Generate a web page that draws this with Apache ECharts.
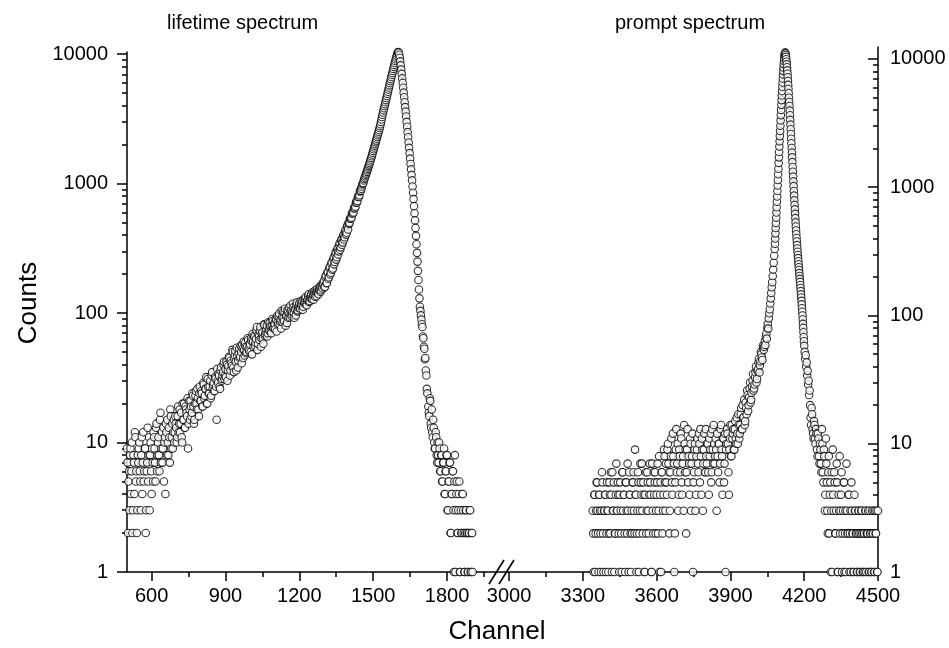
<!DOCTYPE html>
<html><head><meta charset="utf-8">
<script src="https://cdn.jsdelivr.net/npm/echarts@6/dist/echarts.min.js"></script>
<style>html,body{margin:0;padding:0;background:#fff}#c{width:949px;height:648px}</style>
</head><body><div id="c"></div>
<script>
// ---------- DATA (channel numbers and counts) ----------
// lifetime spectrum
const lifetimeRiseStart = 500, lifetimeRiseStep = 4;
const lifetimeRiseCounts = [
  9,2,6,8,4,10,3,7,12,5,2,8,9,6,3,11,7,5,9,2,6,13,8,3,10,
  4,7,12,9,5,14,8,11,6,17,9,7,13,10,4,12,15,8,11,18,9,14,12,10,16,
  13,11,19,14,12,17,10,15,20,13,18,16,9,21,15,19,17,23,14,20,25,18,22,16,27,
  21,24,19,28,23,26,20,31,24,27,22,33,26,29,25,31,15,30,34,27,36,30,33,40,31,
  37,42,30,39,45,36,41,52,38,44,51,36,47,43,53,46,50,57,45,52,59,49,55,62,51,
  57,64,48,60,67,56,63,78,58,66,73,55,69,64,82,67,72,80,70,75,84,72,79,87,76,
  82,90,72,85,94,81,89,104,85,92,101,80,96,105,92,99,114,95,102,111,92,106,115,103,110,
  119,108,114,124,112,119,129,117,125,135,122,131,140,128,137,147,134,144,153,142,151,161,150,160,171,
  178,160,195,171,208,189,228,205,247,221,270,248,296,270,318,300,347,322,373,352,404,385,440,418,478,
  500,498,548,546,601,598,660,664,731,734,806,814,896,912,985,1010,1085,1140,1200,1265,1335,1410,1490,1580,1680,
  1790,1900,2020,2150,2290,2440,2600,2780,3000,3270,3550,3820,4100,4420,4760,5130,5530,5960,6420,6900,7420,7980,8560,9150,9750
];
const lifetimeRise2Start = 502, lifetimeRise2Step = 4;
const lifetimeRise2Counts = [
  7,5,3,9,6,2,8,4,11,6,3,7,10,5,8,4,12,6,9,3,7,5,11,8,6,
  9,5,11,7,13,6,10,8,15,7,12,9,5,11,14,8,10,13,7,16,11,9,15,12,14,
  10,16,12,18,14,11,20,15,13,19,17,22,14,18,21,16,24,19,15,23,20,26,18,24,21,
  25,19,29,22,26,32,20,27,24,30,23,35,28,25,32,27,37,29,33,26,38,31,35,42,33,
  32,40,36,46,33,43,39,50,35,47,42,54,38,49,45,56,41,53,60,47,55,50,64,53,58,
  50,61,69,55,65,59,74,52,68,62,78,64,71,58,81,69,75,66,85,73,79,70,90,77,83,
  75,88,95,82,99,86,76,93,102,87,108,95,84,101,110,93,104,98,118,100,108,96,121,105,114,
  110,124,117,106,128,121,133,115,127,140,124,136,130,145,127,139,151,135,147,140,157,146,163,155,168,
  158,190,170,206,184,222,199,241,216,262,238,285,259,308,284,336,309,364,337,395,370,428,404,466,442,
  488,536,536,588,588,644,646,712,716,789,789,872,880,950,1002,1057,1112,1170,1232,1300,1372,1450,1535,1630,1735,
  1845,1960,2085,2220,2365,2520,2690,2880,3130,3410,3685,3960,4260,4590,4945,5330,5745,6190,6660,7160,7700,8270,8850,9450
];
const lifetimeFallStart = 1598, lifetimeFallStep = 2;
const lifetimeFallCounts = [
  10050,10350,10400,10250,9900,9400,8800,8200,7600,7050,
  6500,6000,5500,5050,4650,4250,3900,3600,3300,3000,
  2750,2500,2280,2080,1890,1720,1560,1420,1290,1170,
  1060,950,850,760,670,590,520,455,395,340,
  292,250,212,180,152,130,112,104,96,89,
  82,78,66,64,55,53,44,45,36,33,
  26,24
];
const lifetimeTailStart = 1724, lifetimeTailStep = 4;
const lifetimeTailCounts = [
  19,16,21,13,12,15,10,9,11,7,
  8,10,6,8,5,7,9,4,6,8,
  3,5,7,2,4,6,1,8,3,5,
  2,4,1,3,2,4,2,1,3,2,
  1,2,3,1,2,1
];
const lifetimeTail2Start = 1726, lifetimeTail2Step = 4;
const lifetimeTail2Counts = [
  17,22,14,18,11,13,9,12,8,10,
  7,9,6,8,5,7,4,6,8,3,
  5,7,2,4,6,3,5,1,4,2,
  3,5,1,2,4,3,1,2,3,2,
  1,2,3,1,2
];
// prompt spectrum
const promptWingStart = 3340, promptWingStep = 4;
const promptWingCounts = [
  3,1,4,2,5,3,1,4,2,3,5,1,3,4,2,3,1,5,2,4,6,3,1,2,7,
  3,4,1,5,2,6,3,4,1,5,2,3,6,4,1,2,5,3,9,4,2,6,1,3,5,
  7,2,4,1,6,3,5,2,7,4,1,3,6,5,2,4,7,3,1,5,6,2,4,8,3,
  5,9,7,2,6,11,4,8,1,5,13,7,3,9,6,11,4,8,14,6,2,9,5,7,11,
  3,8,1,6,10,4,9,7,12,5,8,11,3,9,6,13,7,10,4,8,12,6,9,14,7,
  11,3,8,10,5,13,9,4,11,7,1,10,12,6,9,14,8,11,13,9,15,10,12,17,11,
  14,19,13,16,22,15,19,26,18,23,30,22,28,35,27,33,40,32,38,46,41,52,47,58,54
];
const promptWing2Start = 3342, promptWing2Step = 4;
const promptWing2Counts = [
  2,4,1,3,5,2,4,3,1,6,2,3,4,1,5,3,2,4,6,1,3,5,2,4,3,
  5,2,4,3,1,6,4,2,5,3,7,1,4,2,3,5,6,2,4,1,3,5,2,7,4,
  3,5,1,4,2,6,3,4,5,1,7,2,4,6,3,5,2,8,4,1,6,3,9,5,7,
  4,10,6,3,8,5,12,7,2,9,6,10,4,8,12,5,7,3,10,9,6,13,8,4,10,
  7,12,5,9,3,8,11,6,10,13,4,9,7,12,6,8,10,6,11,9,5,13,7,10,8,
  9,12,6,10,7,14,8,11,5,12,9,13,10,4,11,8,14,12,9,13,11,16,10,14,12,
  17,13,20,16,14,21,17,24,20,27,21,25,31,26,29,36,30,37,43,36,44,50,45,56
];
const promptRiseStart = 4038, promptRiseStep = 2;
const promptRiseCounts = [57,63,59,68,72,66,80,86,79,95,104,112,124,136,150,166,182,203,228,258,292];
const promptPeakStart = 4080, promptPeakStep = 1;
const promptPeakCounts = [
  330,362,398,437,481,527,579,636,698,770,
  846,935,1032,1140,1262,1395,1548,1710,1885,2075,
  2280,2505,2750,3020,3320,3650,4010,4390,4780,5190,
  5620,6080,6560,7050,7560,8080,8600,9120,9650,10150,
  10600,10950,11150,11200,11050,10750,10380,9960,9520,9080,
  8620,8150,7680,7210,6740,6280,5830,5400,4980,4620,
  4300,3960,3640,3350,3080,2830,2600,2390,2200,2020,
  1860,1710,1570,1440,1320,1210,1110,1020,935,860,
  790,728,672,620,574,532,494,460,430,402,
  377,354,333,314,296,280,265,251,238,226,
  214,203,193,183,173,164,155,146,138,130,
  122,114,107,100,93,86,80,74,68,63,
  58
];
const promptFallStart = 4202, promptFallStep = 2;
const promptFallCounts = [52,46,49,40,43,34,37,29,31,24,26];
const promptTailStart = 4224, promptTailStep = 4;
const promptTailCounts = [
  20,14,17,12,15,11,13,9,12,8,
  10,7,13,6,9,3,11,5,2,8,
  4,1,6,9,3,5,2,7,1,4,
  8,3,6,2,5,1,3,7,2,4,
  1,3,5,2,1,4,3,2,1,3,
  2,1,3,2,1,2,3,1,2,3,
  1,2,1,3,2,1,3,2,1,3
];
const promptTail2Start = 4226, promptTail2Step = 4;
const promptTail2Counts = [
  16,19,13,11,14,10,12,8,11,7,
  9,6,10,5,8,4,7,3,6,2,
  5,3,1,4,6,2,3,5,1,3,
  2,4,1,3,5,2,1,3,2,4,
  2,1,3,2,1,3,2,1,2,3,
  1,2,3,1,2,1,3,2,2,1,
  3,2,1,2,3,1,2,3,1
];
// axis ticks
const xTicksLeft = [600, 900, 1200, 1500, 1800];
const xMinorLeft = [750, 1050, 1350, 1650, 1950];
const xTicksRight = [3000, 3300, 3600, 3900, 4200, 4500];
const xMinorRight = [3150, 3450, 3750, 4050, 4350];
const yTicks = [1, 10, 100, 1000, 10000];
const yMinor = [2,3,4,5,6,7,8,9,20,30,40,50,60,70,80,90,200,300,400,500,600,700,800,900,2000,3000,4000,5000,6000,7000,8000,9000];
const titles = ['lifetime spectrum', 'prompt spectrum'];
const xName = 'Channel', yName = 'Counts';

// ---------- BUILD ----------
function seg(start, step, counts) { return counts.map((c, i) => [start + i * step, c]); }
const lifetimeData = [].concat(
  seg(lifetimeRiseStart, lifetimeRiseStep, lifetimeRiseCounts),
  seg(lifetimeRise2Start, lifetimeRise2Step, lifetimeRise2Counts),
  seg(lifetimeFallStart, lifetimeFallStep, lifetimeFallCounts),
  seg(lifetimeTailStart, lifetimeTailStep, lifetimeTailCounts),
  seg(lifetimeTail2Start, lifetimeTail2Step, lifetimeTail2Counts)).sort((a, b) => a[0] - b[0]);
const promptData = [].concat(
  seg(promptWingStart, promptWingStep, promptWingCounts),
  seg(promptWing2Start, promptWing2Step, promptWing2Counts),
  seg(promptRiseStart, promptRiseStep, promptRiseCounts),
  seg(promptPeakStart, promptPeakStep, promptPeakCounts),
  seg(promptFallStart, promptFallStep, promptFallCounts),
  seg(promptTailStart, promptTailStep, promptTailCounts),
  seg(promptTail2Start, promptTail2Step, promptTail2Counts)).sort((a, b) => a[0] - b[0]);

const FONT = '"Liberation Sans", Arial, Helvetica, sans-serif';
const black = '#000';
const lineSt = { color: black, width: 1.5 };
const fmt = v => String(Math.round(v));

function xMajor(grid, min, max, ticks) {
  return { gridIndex: grid, type: 'value', position: 'bottom', min, max,
    axisLine: { show: true, onZero: false, lineStyle: lineSt },
    axisTick: { show: true, customValues: ticks, length: 9, lineStyle: lineSt },
    axisLabel: { show: true, customValues: ticks, formatter: fmt, fontSize: 20, color: black, fontFamily: FONT, margin: 14 },
    splitLine: { show: false } };
}
function xMinorAx(grid, min, max, ticks) {
  return { gridIndex: grid, type: 'value', position: 'bottom', min, max,
    axisLine: { show: false, onZero: false },
    axisTick: { show: true, customValues: ticks, length: 5, lineStyle: lineSt },
    axisLabel: { show: false }, splitLine: { show: false } };
}
function yMajor(grid, pos, max, inside, margin) {
  return { gridIndex: grid, type: 'log', logBase: 10, position: pos, min: 1, max,
    axisLine: { show: true, onZero: false, lineStyle: lineSt },
    axisTick: { show: true, inside, customValues: yTicks, length: 10, lineStyle: lineSt },
    axisLabel: { show: true, customValues: yTicks, formatter: fmt, fontSize: 20, color: black, fontFamily: FONT, margin },
    splitLine: { show: false }, minorTick: { show: false } };
}
function yMinorAx(grid, pos, max, inside) {
  return { gridIndex: grid, type: 'log', logBase: 10, position: pos, min: 1, max,
    axisLine: { show: false, onZero: false },
    axisTick: { show: true, inside, customValues: yMinor, length: 5, lineStyle: lineSt },
    axisLabel: { show: false }, splitLine: { show: false } };
}
const sym = { symbol: 'circle', symbolSize: 7.5, itemStyle: { color: '#fff', borderColor: black, borderWidth: 1.1 } };

const chart = echarts.init(document.getElementById('c'), null, { renderer: 'canvas' });
chart.setOption({
  animation: false,
  backgroundColor: '#fff',
  grid: [
    { left: 127, top: 52, width: 370, height: 520, containLabel: false, outerBoundsMode: 'none' },
    { left: 497, top: 47, width: 381, height: 525, containLabel: false, outerBoundsMode: 'none' }
  ],
  xAxis: [
    xMajor(0, 500, 2003, xTicksLeft),
    xMinorAx(0, 500, 2003, xMinorLeft),
    xMajor(1, 2951, 4500, xTicksRight),
    xMinorAx(1, 2951, 4500, xMinorRight)
  ],
  yAxis: [
    yMajor(0, 'left', 10400, false, 19),
    yMinorAx(0, 'left', 10400, false),
    yMajor(1, 'right', 12400, true, 12),
    yMinorAx(1, 'right', 12400, true)
  ],
  series: [
    Object.assign({ type: 'scatter', name: titles[0], xAxisIndex: 0, yAxisIndex: 0, data: lifetimeData, clip: false, silent: true, emphasis: { disabled: true } }, sym),
    Object.assign({ type: 'scatter', name: titles[1], xAxisIndex: 2, yAxisIndex: 2, data: promptData, clip: false, silent: true, emphasis: { disabled: true } }, sym)
  ],
  graphic: [
    { type: 'text', x: 167, y: 23, style: { text: titles[0], font: '20px ' + FONT, fill: black, align: 'left', verticalAlign: 'middle', textAlign: 'left', textVerticalAlign: 'middle' } },
    { type: 'text', x: 615, y: 23, style: { text: titles[1], font: '20px ' + FONT, fill: black, align: 'left', verticalAlign: 'middle', textAlign: 'left', textVerticalAlign: 'middle' } },
    { type: 'text', x: 29, y: 303, rotation: Math.PI / 2, style: { text: yName, font: '26px ' + FONT, fill: black, align: 'center', verticalAlign: 'middle', textAlign: 'center', textVerticalAlign: 'middle' } },
    { type: 'text', x: 497, y: 632, style: { text: xName, font: '26px ' + FONT, fill: black, align: 'center', verticalAlign: 'middle', textAlign: 'center', textVerticalAlign: 'middle' } },
    { type: 'line', shape: { x1: 489, y1: 584, x2: 504, y2: 560 }, style: { stroke: black, lineWidth: 1.6 }, z: 100 },
    { type: 'line', shape: { x1: 499, y1: 584, x2: 514, y2: 560 }, style: { stroke: black, lineWidth: 1.6 }, z: 100 }
  ]
});
</script>
</body></html>
